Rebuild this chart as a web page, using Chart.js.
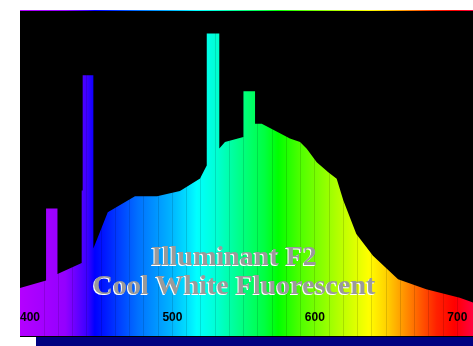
<!DOCTYPE html>
<html>
<head>
<meta charset="utf-8">
<script src="https://cdn.jsdelivr.net/npm/chart.js@4/dist/chart.umd.min.js"></script>
<style>
  html, body { margin: 0; padding: 0; background: #fff; }
  #wrap { width: 473px; height: 346px; }
</style>
</head>
<body>
<div id="wrap"><canvas id="spd"></canvas></div>
<script>
// relative spectral power of the F2 lamp
// (repeated wavelengths make the vertical edges of the mercury lines)
const wavelengths = [393, 411.3, 411.3, 419.3, 419.3, 436.3, 436.3, 437, 437, 444.5, 444.5,
  454.6, 473.7, 489.2, 505.3, 519.4, 522.9, 524.1, 524.1, 532.9, 532.9, 536.9, 549.8, 549.8,
  558.0, 558.0, 562.7, 570.8, 582.5, 589.6, 594.3, 601.3, 609.4, 615.3, 620.0, 629.1, 640.8,
  658.4, 678.2, 701.7, 711];
const power = [14.8, 17.1, 39.2, 39.2, 19.1, 22.5, 44.8, 44.8, 80.2, 80.2, 26.9,
  38.1, 43.0, 43.0, 44.6, 48.5, 51.5, 52.5, 93.1, 93.1, 57.7, 59.7, 61.2, 75.3,
  75.3, 65.3, 65.3, 63.5, 60.8, 59.7, 57.6, 53.5, 50.4, 48.4, 41.7, 31.4, 24.7,
  17.5, 14.4, 11.8, 10.3];
const tickLabels = [400, 500, 600, 700];
const titleLines = ['Illuminant F2', 'Cool White Fluorescent'];

// spectrum colours across the plot, left to right
const spectrumStops = [
  [0.00, '#b400ff'], [0.10, '#9400ff'], [0.15, '#3800ff'], [0.165, '#0000ff'],
  [0.18, '#0010ff'], [0.26, '#0070ff'], [0.33, '#00b0ff'], [0.37, '#00e0ff'],
  [0.39, '#00ffff'], [0.43, '#00ffd8'], [0.48, '#00ff90'], [0.54, '#00ff40'],
  [0.57, '#00ff00'], [0.62, '#50ff00'], [0.70, '#b0ff00'], [0.77, '#ffff00'],
  [0.81, '#ffd000'], [0.84, '#ffa000'], [0.88, '#ff6000'], [0.92, '#ff2000'],
  [0.96, '#ff0000'], [1.00, '#ff0040']
];

let grad = null;
function spectrum(chart) {
  const a = chart.chartArea;
  if (!a) return null;
  if (!grad) {
    grad = chart.ctx.createLinearGradient(a.left, 0, a.right, 0);
    spectrumStops.forEach(s => grad.addColorStop(s[0], s[1]));
  }
  return grad;
}

const backdrop = {
  id: 'backdrop',
  beforeDraw(chart) {
    const ctx = chart.ctx, a = chart.chartArea;
    ctx.save();
    ctx.fillStyle = '#000080';
    ctx.fillRect(a.left + 16, a.bottom + 1, a.right - a.left - 16, 10);
    ctx.fillStyle = '#000';
    ctx.fillRect(a.left, a.top, a.right - a.left, a.bottom - a.top + 1);
    ctx.fillStyle = spectrum(chart);
    ctx.fillRect(a.left, a.top - 1, a.right - a.left, 1);
    ctx.restore();
  }
};

const labels = {
  id: 'labels',
  afterDraw(chart) {
    const ctx = chart.ctx, a = chart.chartArea, xs = chart.scales.x;
    ctx.save();
    ctx.font = 'bold 12px "Liberation Sans", Arial, sans-serif';
    ctx.fillStyle = '#000';
    ctx.textAlign = 'center';
    ctx.textBaseline = 'middle';
    tickLabels.forEach(v => ctx.fillText(String(v), xs.getPixelForValue(v), a.bottom - 18));

    ctx.font = 'bold 28px "Liberation Serif", "Times New Roman", serif';
    ctx.textBaseline = 'alphabetic';
    const cx = a.left + 214;
    titleLines.forEach((t, i) => {
      const y = a.top + 254 + i * 29;
      ctx.fillStyle = '#ffffff';
      ctx.fillText(t, cx - 1, y + 1);
      ctx.fillStyle = '#9a9a9a';
      ctx.fillText(t, cx, y);
    });
    ctx.restore();
  }
};

new Chart(document.getElementById('spd'), {
  type: 'line',
  data: {
    datasets: [{
      data: wavelengths.map((w, i) => ({ x: w, y: power[i] })),
      fill: 'origin',
      backgroundColor: ctx => spectrum(ctx.chart),
      borderWidth: 0,
      pointRadius: 0,
      tension: 0
    }]
  },
  options: {
    responsive: true,
    maintainAspectRatio: false,
    animation: false,
    layout: { padding: { left: 20, top: 11, right: 0, bottom: 10 } },
    plugins: { legend: { display: false }, tooltip: { enabled: false } },
    scales: {
      x: {
        type: 'linear',
        min: 393,
        max: 711,
        border: { display: false },
        ticks: { display: false, stepSize: 10 },
        grid: {
          z: 1,
          drawTicks: false,
          color: c => (c.tick && c.tick.value % 10 === 0) ? 'rgba(0,0,0,0.13)' : 'rgba(0,0,0,0)'
        }
      },
      y: { display: false, min: 0, max: 100 }
    }
  },
  plugins: [backdrop, labels]
});
</script>
</body>
</html>
